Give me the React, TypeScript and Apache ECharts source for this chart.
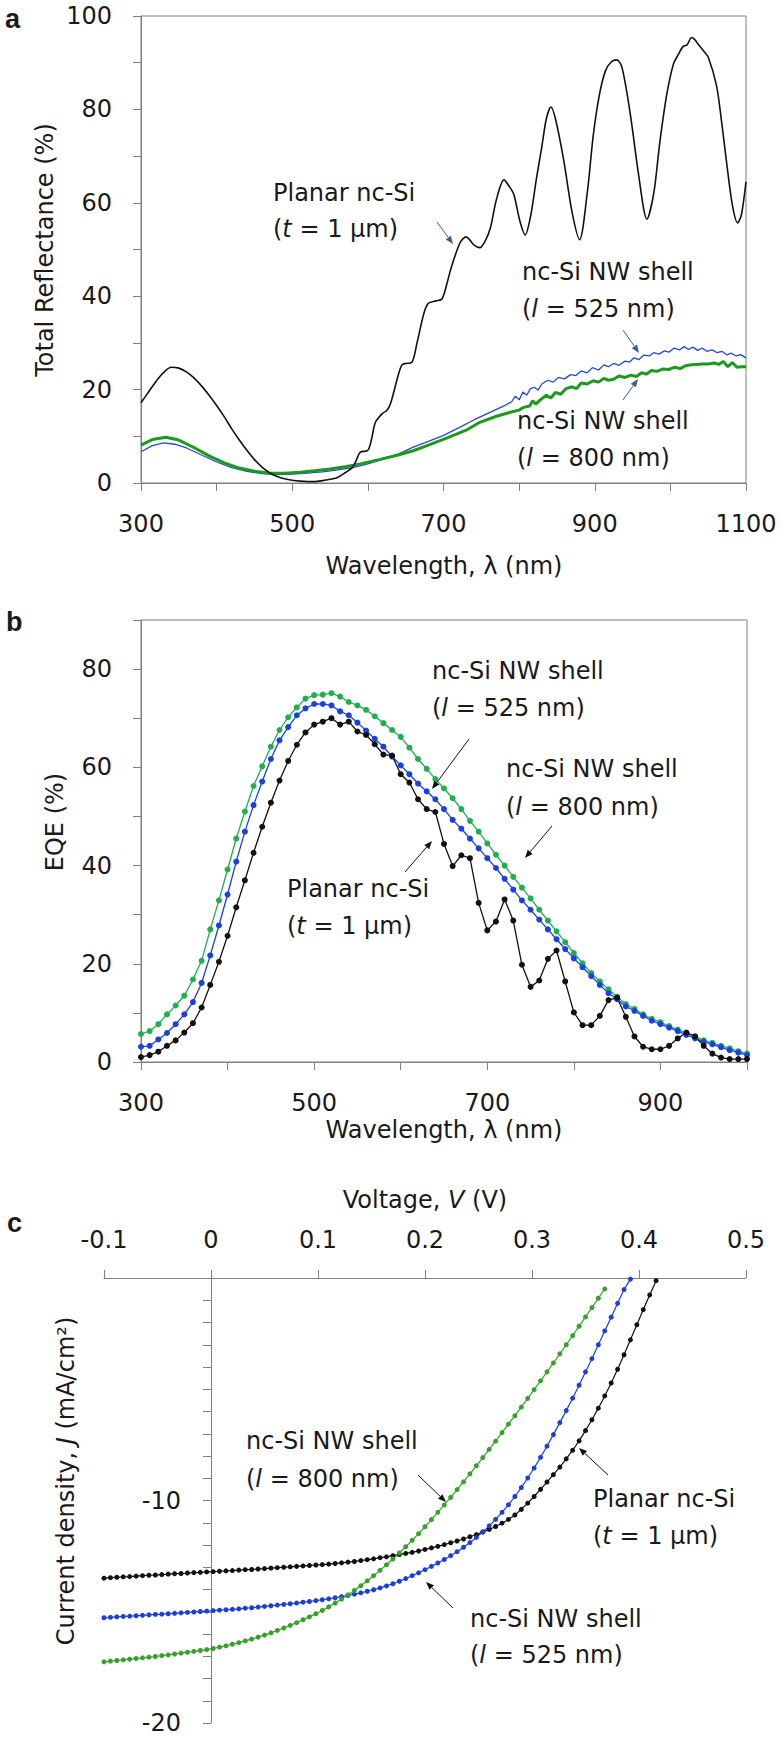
import React, { useEffect, useRef } from "react";
import * as echarts from "echarts";

const FONT = "'DejaVu Sans', Lato, sans-serif";
const TXT = "#1a1a1a";
const AXIS = "#7f7f7f";

// ---------- Panel a: total reflectance ----------
const aPlanarWl = [300,310,320,330,340,350,360,370,380,390,400,410,420,430,440,450,460,470,480,490,500,510,520,530,540,550,560,570,580,585,590,600,605,610,620,625,630,640,645,650,658,665,674,680,690,698,705,710,722,730,735,740,748,755,762,770,780,787,793,801,808,815,823,830,836,842,848,859,870,880,890,898,906,914,922,929,936,947,958,969,978,986,995,1004,1010,1017,1022,1028,1032,1037,1044,1050,1061,1068,1074,1082,1089,1094,1100];
const aPlanarR = [17.2,19.5,21.8,23.7,24.8,24.6,23.8,22.5,20.8,18.8,16.6,14.2,11.6,9.2,7.0,5.0,3.4,2.2,1.4,0.9,0.6,0.4,0.3,0.3,0.5,0.8,1.2,2.2,3.4,5.0,6.6,7.0,9.5,13.0,15.0,15.5,17.0,23.0,25.3,25.6,25.8,30.0,36.3,38.5,39.0,39.4,43.0,46.0,51.5,52.7,52.0,51.0,50.4,51.8,54.6,60.7,64.9,63.5,61.8,56.1,53.1,57.0,65.3,72.0,78.0,80.5,78.0,69.1,58.0,52.1,62.0,74.4,83.0,88.2,90.2,90.6,89.0,79.0,66.0,56.5,62.0,72.9,83.0,89.7,91.6,93.5,93.8,95.4,95.0,93.9,92.5,91.2,85.1,77.0,69.1,59.5,55.7,57.5,64.5];
const aNw525Wl = [300,315,330,345,360,380,400,420,440,460,480,500,520,540,560,580,600,620,640,660,680,700,720,740,760,780,790,795,800,805,810,815,820,825,830,838,845,852,860,868,875,882,890,897,905,912,918,925,932,940,946,952,958,965,972,978,985,992,998,1005,1012,1018,1024,1030,1036,1042,1048,1055,1062,1068,1075,1080,1087,1093,1100];
const aNw525R = [6.7,8.0,8.6,8.3,7.5,6.0,4.5,3.3,2.5,2.0,1.8,1.9,2.1,2.4,2.8,3.3,4.1,5.1,6.2,7.7,8.9,10.2,11.8,13.5,15.0,16.5,17.4,18.6,17.8,19.5,18.8,20.2,20.5,19.9,21.2,22.0,21.6,22.6,22.3,23.2,23.0,24.0,23.6,24.7,24.2,25.3,24.9,25.6,25.2,26.1,25.9,26.8,26.4,27.4,27.2,27.9,27.6,28.3,28.0,28.9,28.5,29.2,28.6,29.1,28.4,28.9,28.2,28.5,27.9,28.2,27.4,27.8,27.2,27.5,26.8];
const aNw800Wl = [300,315,333,350,370,390,410,430,450,470,490,510,530,550,570,590,615,640,660,680,704,730,748,770,792,800,806,814,818,822,828,836,842,848,855,862,870,876,882,890,898,905,912,918,925,932,940,948,955,962,968,975,982,990,998,1006,1013,1020,1028,1035,1042,1050,1058,1064,1070,1076,1082,1088,1094,1100];
const aNw800R = [8.1,9.3,9.8,9.2,7.6,5.8,4.3,3.2,2.5,2.1,2.1,2.3,2.6,3.0,3.5,4.1,5.0,6.0,6.9,8.1,9.6,11.3,13.0,14.3,15.3,15.6,16.2,16.5,17.6,16.9,17.8,18.8,18.2,19.4,19.0,20.2,20.6,20.2,21.4,21.2,21.9,21.6,22.4,22.0,22.2,22.9,22.6,23.1,22.8,23.6,23.3,24.1,23.9,24.4,24.3,24.8,24.5,25.1,25.3,25.4,25.5,25.5,25.7,25.4,26.0,24.9,25.8,24.8,24.9,24.9];

// ---------- Panel b: EQE ----------
const bWl = [300,310,320,330,340,350,360,370,380,390,400,410,420,430,440,450,460,470,480,490,500,510,520,530,540,550,560,570,580,590,600,610,620,630,640,650,660,670,680,690,700,710,720,730,740,750,760,770,780,790,800,810,820,830,840,850,860,870,880,890,900,910,920,930,940,950,960,970,980,990,1000];
const bPlanar = [1.0,1.4,2.1,3.3,4.4,6.0,7.9,11.1,15.7,20.4,25.7,31.5,37.0,42.6,47.9,52.8,57.3,61.3,64.6,67.1,68.7,69.3,70.0,68.7,69.3,67.3,66.6,64.7,62.6,62.4,58.6,56.9,53.5,51.5,50.9,44.4,39.9,42.1,41.5,32.4,26.8,28.6,33.1,28.8,19.8,15.3,16.6,21.0,22.7,16.4,10.1,7.5,7.5,9.4,12.6,13.1,9.2,5.2,3.1,2.6,2.6,3.3,4.8,6.0,5.2,3.3,1.7,0.9,0.6,0.6,0.6];
const bNw525 = [3.1,3.3,4.6,5.9,7.7,9.7,12.2,16.1,21.7,27.8,34.1,40.8,46.9,52.3,57.1,61.7,65.5,68.2,70.6,72.0,72.9,72.9,72.6,71.4,70.6,69.1,67.5,65.8,64.2,62.2,60.4,58.6,56.7,55.1,53.5,51.5,49.3,47.5,45.5,43.5,41.5,39.5,37.3,35.1,32.9,31.0,29.0,27.0,25.0,23.0,21.1,19.3,17.5,15.7,14.0,12.8,11.3,10.4,9.4,8.4,7.7,7.0,6.3,5.5,4.8,4.1,3.6,3.0,2.4,1.9,1.4];
const bNw800 = [5.7,6.3,7.7,9.7,11.5,13.5,16.8,20.6,27.0,32.9,39.2,45.5,51.0,56.2,60.2,64.2,67.6,70.2,72.2,74.0,74.7,74.8,75.1,74.4,73.3,72.6,71.7,70.4,69.0,67.6,66.2,64.0,61.7,59.7,57.6,55.7,53.7,51.5,49.1,46.9,44.5,42.2,40.0,37.7,35.5,33.3,31.0,28.8,26.6,24.4,22.2,20.1,18.1,16.4,14.8,13.3,11.8,10.8,9.7,8.8,8.1,7.3,6.6,5.9,5.2,4.4,3.9,3.3,2.8,2.2,1.7];

// ---------- Panel c: J-V ----------
const cV = [-0.1,-0.094,-0.088,-0.082,-0.076,-0.07,-0.064,-0.058,-0.052,-0.046,-0.04,-0.034,-0.028,-0.022,-0.016,-0.01,-0.004,0.002,0.008,0.014,0.02,0.026,0.032,0.038,0.044,0.05,0.056,0.062,0.068,0.074,0.08,0.086,0.092,0.098,0.104,0.11,0.116,0.122,0.128,0.134,0.14,0.146,0.152,0.158,0.164,0.17,0.176,0.182,0.188,0.194,0.2,0.206,0.212,0.218,0.224,0.23,0.236,0.242,0.248,0.254,0.26,0.266,0.272,0.278,0.284,0.29,0.296,0.302,0.308,0.314,0.32,0.326,0.332,0.338,0.344,0.35,0.356,0.362,0.368,0.374,0.38,0.386,0.392,0.398,0.404,0.41,0.416];
const cPlanar = [-13.49,-13.47,-13.45,-13.43,-13.42,-13.40,-13.38,-13.36,-13.35,-13.33,-13.31,-13.29,-13.28,-13.26,-13.24,-13.23,-13.21,-13.20,-13.18,-13.16,-13.15,-13.13,-13.11,-13.10,-13.08,-13.06,-13.04,-13.02,-13.00,-12.98,-12.96,-12.94,-12.92,-12.90,-12.88,-12.86,-12.83,-12.80,-12.77,-12.74,-12.70,-12.66,-12.62,-12.57,-12.53,-12.48,-12.43,-12.38,-12.33,-12.27,-12.20,-12.13,-12.06,-11.98,-11.90,-11.82,-11.73,-11.63,-11.53,-11.42,-11.30,-11.17,-11.02,-10.85,-10.65,-10.40,-10.12,-9.82,-9.50,-9.17,-8.84,-8.50,-8.13,-7.74,-7.32,-6.86,-6.37,-5.85,-5.30,-4.72,-4.10,-3.45,-2.78,-2.10,-1.42,-0.76,-0.12];
const cNw525 = [-15.27,-15.25,-15.23,-15.21,-15.20,-15.18,-15.16,-15.14,-15.12,-15.11,-15.09,-15.07,-15.05,-15.03,-15.01,-14.99,-14.97,-14.95,-14.93,-14.91,-14.89,-14.87,-14.84,-14.82,-14.79,-14.76,-14.73,-14.70,-14.67,-14.64,-14.61,-14.57,-14.54,-14.50,-14.46,-14.42,-14.37,-14.32,-14.27,-14.21,-14.15,-14.08,-14.01,-13.93,-13.84,-13.74,-13.63,-13.51,-13.38,-13.25,-13.11,-12.96,-12.81,-12.65,-12.48,-12.30,-12.10,-11.89,-11.66,-11.41,-11.14,-10.85,-10.53,-10.19,-9.82,-9.42,-8.99,-8.54,-8.06,-7.56,-7.04,-6.50,-5.96,-5.40,-4.82,-4.22,-3.62,-3.00,-2.38,-1.76,-1.14,-0.52,-0.05];
const cNw800 = [-17.25,-17.22,-17.19,-17.16,-17.13,-17.10,-17.07,-17.04,-17.01,-16.97,-16.94,-16.90,-16.86,-16.82,-16.78,-16.74,-16.70,-16.65,-16.59,-16.53,-16.46,-16.39,-16.31,-16.23,-16.14,-16.05,-15.95,-15.84,-15.73,-15.61,-15.49,-15.36,-15.23,-15.09,-14.94,-14.78,-14.61,-14.43,-14.24,-14.04,-13.83,-13.61,-13.38,-13.14,-12.89,-12.63,-12.36,-12.08,-11.79,-11.49,-11.18,-10.86,-10.53,-10.20,-9.86,-9.51,-9.16,-8.80,-8.44,-8.07,-7.70,-7.33,-6.95,-6.57,-6.19,-5.80,-5.41,-5.02,-4.62,-4.22,-3.82,-3.41,-3.00,-2.59,-2.17,-1.75,-1.33,-0.91,-0.49];

const C_MIN = -0.1;
const C_MAX = 0.5;

const pairs = (xs: number[], ys: number[]) => ys.map((y, i) => [xs[i], y]);

const RICH = {
  i: { fontStyle: "italic", fontSize: 24, fontFamily: FONT, fill: TXT, color: TXT },
};

function T(x: number, y: number, text: string, align = "left", rotation = 0, extra: any = {}) {
  return {
    type: "text",
    x,
    y,
    rotation,
    silent: true,
    z: 100,
    style: {
      text,
      fill: TXT,
      fontSize: 24,
      fontFamily: FONT,
      align,
      verticalAlign: "middle",
      textAlign: align,
      textVerticalAlign: "middle",
      rich: RICH,
      ...extra,
    },
  };
}

function arrow(x1: number, y1: number, x2: number, y2: number, color: string) {
  const ang = Math.atan2(y2 - y1, x2 - x1);
  const L = 8, W = 3.2;
  const bx = x2 - L * Math.cos(ang), by = y2 - L * Math.sin(ang);
  const px = -Math.sin(ang) * W, py = Math.cos(ang) * W;
  return [
    { type: "line", silent: true, z: 100, shape: { x1, y1, x2: bx, y2: by }, style: { stroke: color, lineWidth: 1 } },
    { type: "polygon", silent: true, z: 100, shape: { points: [[x2, y2], [bx + px, by + py], [bx - px, by - py]] }, style: { fill: color } },
  ];
}

function axis(opts: any) {
  const { label = {}, tickLen = 8, ...rest } = opts;
  return {
    type: "value",
    axisLine: { show: true, onZero: false, lineStyle: { color: AXIS, width: 1 } },
    axisTick: { show: true, length: tickLen, inside: false, lineStyle: { color: AXIS, width: 1 } },
    splitLine: { show: false },
    axisLabel: { color: TXT, fontSize: 24, fontFamily: FONT, lineHeight: 24, ...label },
    ...rest,
  };
}

const every200 = (v: number) => (Math.round(v) % 200 === 100 ? String(Math.round(v)) : "");
const every20 = (v: number) => (Math.round(v) % 20 === 0 ? String(Math.round(v)) : "");

export default function App() {
  const ref = useRef<HTMLDivElement>(null);
  useEffect(() => {
    if (!ref.current) return;
    const chart = echarts.init(ref.current, null, { renderer: "svg" });
    const ARROW_A = "#3b5e8c";
    const BOLD = { fontFamily: "'Liberation Sans', Arial, sans-serif", fontWeight: "bold", fontSize: 27 };
    const graphic: any[] = [
      // panel labels
      T(5, 19, "a", "left", 0, BOLD),
      T(6, 622, "b", "left", 0, BOLD),
      T(7, 1223, "c", "left", 0, BOLD),
      // axis titles
      T(45, 250, "Total Reflectance (%)", "center", Math.PI / 2),
      T(444, 566, "Wavelength, λ (nm)", "center"),
      T(55, 822, "EQE (%)", "center", Math.PI / 2),
      T(444, 1130, "Wavelength, λ (nm)", "center"),
      T(425, 1200, "Voltage, {i|V} (V)", "center"),
      T(66, 1481, "Current density, {i|J} (mA/cm²)", "center", Math.PI / 2),
      // panel a annotations
      T(273, 193, "Planar nc-Si"),
      T(273, 229, "({i|t} = 1 μm)"),
      T(522, 272, "nc-Si NW shell"),
      T(522, 309, "({i|l} = 525 nm)"),
      T(517, 421, "nc-Si NW shell"),
      T(517, 458, "({i|l} = 800 nm)"),
      ...arrow(437, 222, 453, 244, ARROW_A),
      ...arrow(623, 330, 639, 353, ARROW_A),
      ...arrow(623, 400, 638, 379, ARROW_A),
      // panel b annotations
      T(432, 671, "nc-Si NW shell"),
      T(432, 708, "({i|l} = 525 nm)"),
      T(506, 769, "nc-Si NW shell"),
      T(506, 807, "({i|l} = 800 nm)"),
      T(287, 889, "Planar nc-Si"),
      T(287, 926, "({i|t} = 1 μm)"),
      ...arrow(469, 739, 432, 789, "#111"),
      ...arrow(552, 826, 525, 858, "#111"),
      ...arrow(405, 872, 432, 841, "#111"),
      // panel c annotations
      T(246, 1441, "nc-Si NW shell"),
      T(246, 1479, "({i|l} = 800 nm)"),
      T(593, 1499, "Planar nc-Si"),
      T(593, 1536, "({i|t} = 1 μm)"),
      T(470, 1619, "nc-Si NW shell"),
      T(470, 1655, "({i|l} = 525 nm)"),
      ...arrow(418, 1475, 446, 1502, "#111"),
      ...arrow(608, 1475, 579, 1448, "#111"),
      ...arrow(453, 1608, 426, 1582, "#111"),
    ];

    const lineA = (name: string, xs: number[], ys: number[], color: string, width: number, smooth: any = false) => ({
      name, type: "line", xAxisIndex: 0, yAxisIndex: 0, data: pairs(xs, ys), symbol: "none", smooth,
      lineStyle: { color, width }, itemStyle: { color }, silent: true, clip: true,
    });
    const dotted = (name: string, idx: number, xs: number[], ys: number[], color: string, size: number, width: number) => ({
      name, type: "line", xAxisIndex: idx, yAxisIndex: idx, data: pairs(xs, ys), symbol: "circle", symbolSize: size,
      showSymbol: true, lineStyle: { color, width }, itemStyle: { color, borderWidth: 0 }, silent: true, clip: true,
    });

    const gridC = { left: 104, top: 1278, width: 642, height: 445 };
    // place panel c's J axis at V = 0 (offset from the grid's left edge)
    const yOffsetC = -((0 - C_MIN) / (C_MAX - C_MIN)) * gridC.width;

    chart.setOption({
      animation: false,
      backgroundColor: "#ffffff",
      textStyle: { fontFamily: FONT },
      grid: [
        { left: 141, top: 16, width: 605, height: 467, show: true, borderColor: AXIS, borderWidth: 1, backgroundColor: "transparent" },
        { left: 141, top: 620, width: 606, height: 442, show: true, borderColor: AXIS, borderWidth: 1, backgroundColor: "transparent" },
        { ...gridC, show: false },
      ],
      xAxis: [
        axis({ gridIndex: 0, min: 300, max: 1100, interval: 100, label: { margin: 29, formatter: every200 } }),
        axis({ gridIndex: 1, min: 300, max: 1000, interval: 100, label: { margin: 29, formatter: every200 } }),
        axis({
          gridIndex: 2, position: "top", min: C_MIN, max: C_MAX, interval: 0.1,
          label: { margin: 26, formatter: (v: number) => (Math.abs(v) < 1e-9 ? "0" : String(Math.round(v * 10) / 10)) },
        }),
      ],
      yAxis: [
        axis({ gridIndex: 0, min: 0, max: 100, interval: 10, label: { margin: 29, formatter: every20 } }),
        axis({ gridIndex: 1, min: 0, max: 90, interval: 10, label: { margin: 29, formatter: every20 } }),
        axis({
          gridIndex: 2, position: "left", offset: yOffsetC, min: -20, max: 0, interval: 1,
          label: { margin: 30, formatter: (v: number) => (Math.round(v) === -10 || Math.round(v) === -20 ? String(Math.round(v)) : "") },
        }),
      ],
      series: [
        lineA("NW 525 nm", aNw525Wl, aNw525R, "#2546e0", 1.3),
        lineA("NW 800 nm", aNw800Wl, aNw800R, "#1c9a1c", 3),
        lineA("Planar", aPlanarWl, aPlanarR, "#111111", 1.6, 0.3),
        dotted("NW 800 nm", 1, bWl, bNw800, "#1fae50", 6, 1.3),
        dotted("NW 525 nm", 1, bWl, bNw525, "#1b3fe0", 6, 1.3),
        dotted("Planar", 1, bWl, bPlanar, "#111111", 6, 1.3),
        dotted("Planar", 2, cV, cPlanar, "#111111", 5, 1.2),
        dotted("NW 525 nm", 2, cV, cNw525, "#1c3fdc", 5, 1.2),
        dotted("NW 800 nm", 2, cV, cNw800, "#36a22b", 5, 1.2),
      ],
      graphic,
    });
    return () => chart.dispose();
  }, []);
  return (
    <div
      ref={ref}
      style={{ position: "absolute", left: 0, top: 0, width: 782, height: 1739, background: "#fff" }}
    />
  );
}
